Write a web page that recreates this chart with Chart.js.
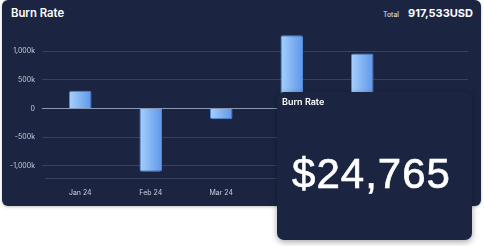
<!DOCTYPE html>
<html>
<head>
<meta charset="utf-8">
<script src="https://cdn.jsdelivr.net/npm/chart.js@4/dist/chart.umd.min.js"></script>
<style>
  html, body { margin: 0; padding: 0; background: #ffffff; width: 484px; height: 246px; overflow: hidden; }
  .card { position: absolute; left: 2px; top: 0px; width: 479px; height: 206px; background: #1b2541; border-radius: 6px; box-shadow: 0 1px 3px rgba(0,0,0,0.25); }
  #c { position: absolute; left: 0; top: 0; }
  .title { position: absolute; left: 11px; top: 8px; font: 600 11.3px/1 Inter, sans-serif; color: #ffffff; }
  .total { position: absolute; right: 11px; top: 8px; font: 700 11px/1 Inter, sans-serif; color: #ffffff; white-space: nowrap; }
  .total .lbl { font-weight: 400; font-size: 7px; margin-right: 9px; color: #e6e9f0; }
  .overlay { position: absolute; left: 277px; top: 92px; width: 195px; height: 148px; background: #1b2541; border-radius: 7px; box-shadow: 0 2px 6px rgba(0,0,0,0.35); }
  .overlay .otitle { position: absolute; left: 5px; top: 5px; font: 600 9px/1 Inter, sans-serif; color: #ffffff; }
  .overlay .big { position: absolute; left: -3px; width: 100%; top: 61px; text-align: center; font: 400 42px/1 "Liberation Sans", Arial, sans-serif; letter-spacing: 1px; color: #ffffff; -webkit-text-stroke: 0.7px #ffffff; }
</style>
</head>
<body>
<div class="card"></div>
<div class="title">Burn Rate</div>
<div class="total"><span class="lbl">Total</span>917,533USD</div>
<canvas id="c" width="484" height="246"></canvas>
<div class="overlay">
  <div class="otitle">Burn Rate</div>
  <div class="big">$24,765</div>
</div>
<script>
const months = ["Jan 24", "Feb 24", "Mar 24", "Apr 24", "May 24", "Jun 24"];
const burnValues = [308000, -1103000, -185000, 1279000, 958000, -340000];
const yTickValues = [-1000000, -500000, 0, 500000, 1000000];
const yMin = -1212000;
const yMax = 1300000;

const gridColor = "rgba(255,255,255,0.13)";
const zeroColor = "#8b98b3";
const tickColor = "#c9ced9";

function barGradient(ctx) {
  const chart = ctx.chart;
  if (!chart.chartArea || !chart.scales.x) return "#7fb0f2";
  const xs = chart.scales.x;
  const c = xs.getPixelForValue(ctx.dataIndex);
  const half = 11.4;
  const g = chart.ctx.createLinearGradient(c - half, 0, c + half, 0);
  g.addColorStop(0, "#a6d0fe");
  g.addColorStop(1, "#5e97e8");
  return g;
}

new Chart(document.getElementById("c"), {
  type: "bar",
  data: {
    labels: months,
    datasets: [{
      data: burnValues,
      backgroundColor: barGradient,
      borderColor: "#5088d8",
      borderWidth: 1,
      borderRadius: 2,
      borderSkipped: "start",
      barPercentage: 0.32,
      categoryPercentage: 1
    }]
  },
  options: {
    responsive: false,
    animation: false,
    layout: { padding: { top: 34, left: 0, right: 16, bottom: 40 } },
    plugins: { legend: { display: false }, tooltip: { enabled: false } },
    scales: {
      x: {
        grid: { display: false, drawTicks: false },
        border: { display: true, color: gridColor, width: 1 },
        ticks: { color: tickColor, font: { family: "Inter", size: 7 }, padding: 11, maxRotation: 0 },
        afterFit: (s) => { s.height = 28; }
      },
      y: {
        min: yMin,
        max: yMax,
        border: { display: false },
        grid: {
          color: (ctx) => (ctx.tick && ctx.tick.value === 0 ? zeroColor : gridColor),
          tickLength: 3,
          drawTicks: true
        },
        ticks: {
          color: tickColor,
          font: { family: "Inter", size: 7 },
          padding: 7,
          callback: (v) => (v === 0 ? "0" : (v / 1000).toLocaleString("en-US") + "k")
        },
        afterBuildTicks: (s) => { s.ticks = yTickValues.map(v => ({ value: v })); },
        afterFit: (s) => { s.width = 45; }
      }
    }
  }
});
</script>
</body>
</html>
